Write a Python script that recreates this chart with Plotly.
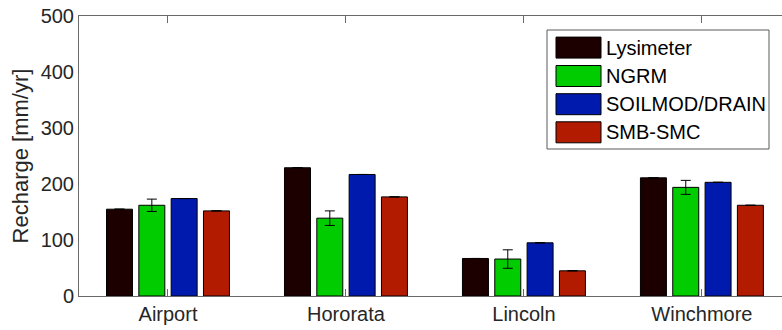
import plotly.graph_objects as go

# Sites and recharge estimates (mm/yr) per method
sites = ["Airport", "Hororata", "Lincoln", "Winchmore"]
methods = ["Lysimeter", "NGRM", "SOILMOD/DRAIN", "SMB-SMC"]
lysimeter = [155, 229, 67, 211]
ngrm = [162, 139, 66, 194]
ngrm_err = [11, 13, 16.5, 12.5]
soilmod = [174, 217, 95, 203]
smb_smc = [152, 177, 45, 162]
zero_err = [0, 0, 0, 0]

values = [lysimeter, ngrm, soilmod, smb_smc]
errors = [zero_err, ngrm_err, zero_err, zero_err]
colors = ["#1c0000", "#00cc00", "#001aae", "#b21b00"]

yticks = [0, 100, 200, 300, 400, 500]

W, H = 782, 330
ML, MR, MT, MB = 79, 0, 16, 34
PW, PH = W - ML - MR, H - MT - MB
FONT = "Liberation Sans, Arial, sans-serif"
TXT = "#262626"
AX = "#6a6a6a"

fig = go.Figure()
for name, vals, err, col in zip(methods, values, errors, colors):
    fig.add_trace(go.Bar(
        x=sites, y=vals, name=name,
        marker=dict(color=col, line=dict(color="black", width=1)),
        error_y=dict(type="data", array=err, visible=True,
                     color="black", thickness=1, width=5),
        showlegend=False,
    ))


def px_x(p):
    return (p - ML) / PW


def px_y(p):
    return (H - MB - p) / PH


shapes = []
annotations = []
# legend frame
shapes.append(dict(type="rect", xref="paper", yref="paper",
                   x0=px_x(547), x1=px_x(769), y0=px_y(149), y1=px_y(30),
                   line=dict(color="#5a5a5a", width=1), fillcolor="white", layer="above"))
row_centers = [47.6, 76.0, 104.2, 132.3]
for name, col, cy in zip(methods, colors, row_centers):
    shapes.append(dict(type="rect", xref="paper", yref="paper",
                       x0=px_x(556), x1=px_x(601), y0=px_y(cy + 10.5), y1=px_y(cy - 10.5),
                       line=dict(color="black", width=1), fillcolor=col, layer="above"))
    annotations.append(dict(xref="paper", yref="paper", x=px_x(604), y=px_y(cy),
                            text=name, showarrow=False, xanchor="left", yanchor="middle",
                            font=dict(family=FONT, size=20, color="black")))

fig.update_layout(
    width=W, height=H,
    margin=dict(l=ML, r=MR, t=MT, b=MB),
    paper_bgcolor="white", plot_bgcolor="white",
    barmode="group", bargap=0.2735, bargroupgap=0.196,
    font=dict(family=FONT, size=20, color=TXT),
    shapes=shapes, annotations=annotations,
    xaxis=dict(
        range=[-0.5, 3.45], showgrid=False, zeroline=False,
        showline=True, linecolor=AX, linewidth=1, mirror="ticks",
        ticks="inside", ticklen=7, tickcolor=AX, tickwidth=1,
        tickfont=dict(size=20, color=TXT),
    ),
    yaxis=dict(
        range=[0, 500], tickvals=yticks, showgrid=False, zeroline=False,
        showline=True, linecolor=AX, linewidth=1,
        ticks="", tickfont=dict(size=20, color=TXT),
        title=dict(text="Recharge [mm/yr]", font=dict(size=22, color=TXT), standoff=5),
    ),
)

fig.write_html("out.html")
